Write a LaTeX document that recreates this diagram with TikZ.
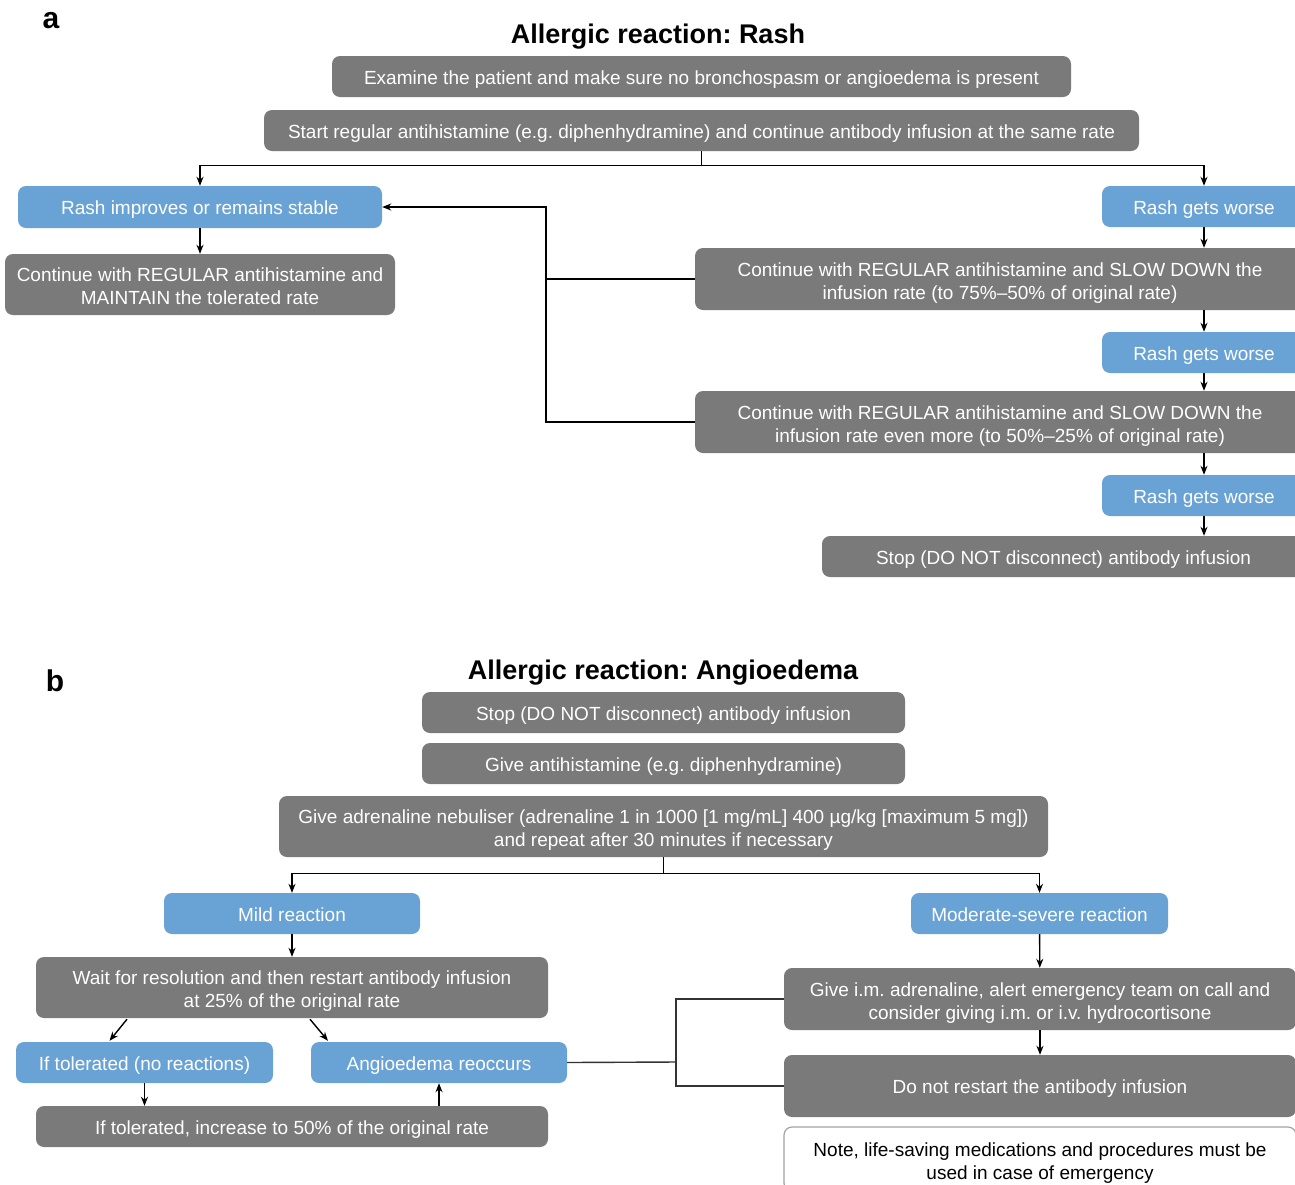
\documentclass[tikz,border=0pt]{standalone}
\usepackage{fontspec}
\setmainfont{Liberation Sans}
\frenchspacing
\usetikzlibrary{arrows.meta,calc}
\definecolor{boxgray}{RGB}{121,122,121}
\definecolor{boxblue}{RGB}{105,162,212}
\tikzset{
	x=1pt, y=-1pt,
	base/.style={rounded corners=8pt, inner sep=0pt, align=center, text=white, font=\fontsize{19}{23}\selectfont,
		text height=20pt, text depth=5pt},
	twoline/.style={text height=45pt, text depth=5pt},
	graybox/.style={base, fill=boxgray},
	bluebox/.style={base, fill=boxblue},
	notebox/.style={base, draw=boxgray!70, line width=1.2pt, fill=white, text=black},
	arr/.style={-{Stealth[length=9pt,width=7pt]}, line width=1.4pt},
	link/.style={line width=1.4pt},
	heading/.style={font=\fontsize{27}{30}\selectfont\bfseries},
	panel/.style={font=\fontsize{30}{30}\selectfont\bfseries},
}

\begin{document}
\begin{tikzpicture}
		%%%%% START %%%%%
		\useasboundingbox (0,0) rectangle (1295,1184);
		\clip (0,0) rectangle (1295,1184);
		
		% panel a
		\node[panel] (la) at (51,21) {a};
		\node[heading] (ta) at (658,37) {Allergic reaction: Rash};
		
		\node[graybox, minimum width=739pt, minimum height=41pt] (exam) at (701.5,76.5) {Examine the patient and make sure no bronchospasm or angioedema is present};
		\node[graybox, minimum width=875pt, minimum height=41pt] (start) at (701.5,130.5) {Start regular antihistamine (e.g. diphenhydramine) and continue antibody infusion at the same rate};
		
		\node[bluebox, minimum width=364pt, minimum height=42pt] (improve) at (200,207) {Rash improves or remains stable};
		\node[graybox, twoline, minimum width=390pt, minimum height=61pt] (maintain) at (200,284.5) {Continue with REGULAR antihistamine and\\MAINTAIN the tolerated rate};
		
		\node[bluebox, minimum width=204pt, minimum height=41pt] (worse1) at (1204,206.5) {Rash gets worse};
		\node[graybox, twoline, minimum width=610pt, minimum height=62pt] (slow1) at (1000,279) {Continue with REGULAR antihistamine and SLOW DOWN the\\infusion rate (to 75\%--50\% of original rate)};
		\node[bluebox, minimum width=204pt, minimum height=41pt] (worse2) at (1204,352.5) {Rash gets worse};
		\node[graybox, twoline, minimum width=610pt, minimum height=62pt] (slow2) at (1000,422) {Continue with REGULAR antihistamine and SLOW DOWN the\\infusion rate even more (to 50\%--25\% of original rate)};
		\node[bluebox, minimum width=204pt, minimum height=41pt] (worse3) at (1204,495.5) {Rash gets worse};
		\node[graybox, minimum width=483pt, minimum height=41pt] (stopa) at (1063.5,556.5) {Stop (DO NOT disconnect) antibody infusion};
		
		\draw[link] (start.south) -- ++(0,14) coordinate (sa);
		\draw[arr] (sa) -| (improve.north);
		\draw[arr] (sa) -| (worse1.north);
		\draw[arr] (improve) -- (maintain);
		\draw[arr] (worse1.south) -- (worse1.south |- slow1.north);
		\draw[arr] (worse2 |- slow1.south) -- (worse2.north);
		\draw[arr] (worse2.south) -- (worse2.south |- slow2.north);
		\draw[arr] (worse3 |- slow2.south) -- (worse3.north);
		\draw[arr] (worse3.south) -- (worse3.south |- stopa.north);
		
		\coordinate (fb) at (546,207);
		\draw[link] (slow1.west) -- (slow1.west -| fb);
		\draw[arr] (slow2.west) -| (fb) -- (improve.east);
		
		% panel b
		\node[panel] (lb) at (55,681) {b};
		\node[heading] (tb) at (663,673) {Allergic reaction: Angioedema};
		
		\node[graybox, minimum width=483pt, minimum height=41pt] (stopb) at (663.5,712.5) {Stop (DO NOT disconnect) antibody infusion};
		\node[graybox, minimum width=483pt, minimum height=41pt] (anti) at (663.5,763.5) {Give antihistamine (e.g. diphenhydramine)};
		\node[graybox, twoline, minimum width=769pt, minimum height=61pt] (neb) at (663.5,826.5) {Give adrenaline nebuliser (adrenaline 1 in 1000 [1 mg/mL] 400 µg/kg [maximum 5 mg])\\and repeat after 30 minutes if necessary};
		
		\node[bluebox, minimum width=256pt, minimum height=41pt] (mild) at (292,913.5) {Mild reaction};
		\node[graybox, twoline, minimum width=512pt, minimum height=61pt] (wait) at (292,987.5) {Wait for resolution and then restart antibody infusion\\at 25\% of the original rate};
		\node[bluebox, minimum width=257pt, minimum height=41pt] (tol) at (144.5,1062.5) {If tolerated (no reactions)};
		\node[bluebox, minimum width=256pt, minimum height=41pt] (again) at (439,1062.5) {Angioedema reoccurs};
		\node[graybox, minimum width=512pt, minimum height=41pt] (incr) at (292,1126.5) {If tolerated, increase to 50\% of the original rate};
		
		\node[bluebox, minimum width=257pt, minimum height=41pt] (severe) at (1039.5,913.5) {Moderate-severe reaction};
		\node[graybox, twoline, minimum width=512pt, minimum height=62pt] (im) at (1040,999) {Give i.m. adrenaline, alert emergency team on call and\\consider giving i.m. or i.v. hydrocortisone};
		\node[graybox, minimum width=512pt, minimum height=62pt] (norestart) at (1040,1086) {Do not restart the antibody infusion};
		\node[notebox, twoline, minimum width=512pt, minimum height=64pt] (note) at (1040,1159) {Note, life-saving medications and procedures must be\\used in case of emergency};
		
		\draw[link] (neb.south) -- ++(0,16) coordinate (sb);
		\draw[arr] (sb) -| (mild.north);
		\draw[arr] (sb) -| (severe.north);
		\draw[arr] (mild) -- (wait);
		\draw[arr] ($(wait.south)+(-165,1)$) -- ($(tol.north)+(-35,-1)$);
		\draw[arr] ($(wait.south)+(18,1)$) -- ($(again.north)+(-111,-1)$);
		\draw[arr] (tol.south) -- (tol.south |- incr.north);
		\draw[arr] (again.south |- incr.north) -- (again.south);
		\draw[arr] (severe) -- (im);
		\draw[arr] (im) -- (norestart);
		
		\coordinate (jb) at (676,1062);
		\draw[link, black!80] (again.east) -- (jb);
		\draw[link, black!80] (im.west) -| (jb) |- (norestart.west);
		
		%%%%% END %%%%%
\end{tikzpicture}
\end{document}
